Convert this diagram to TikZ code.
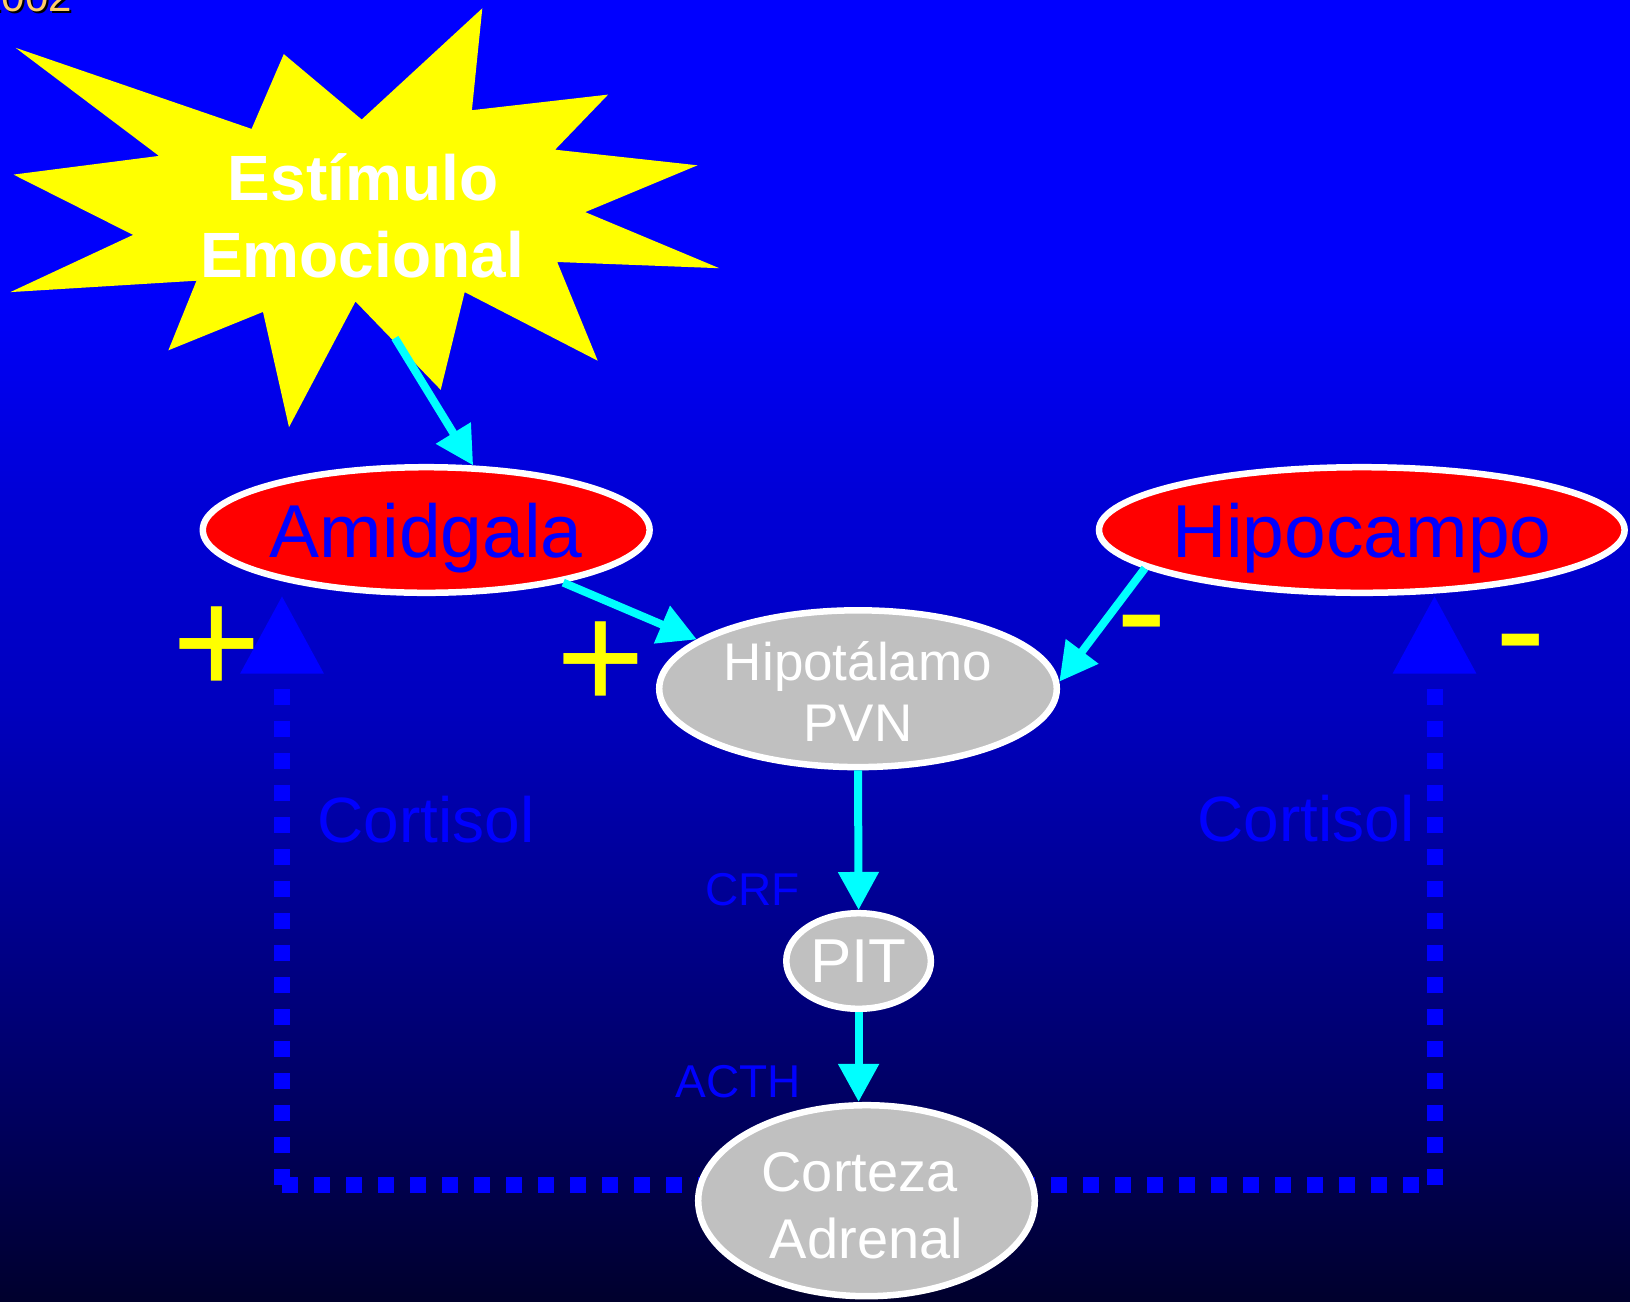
\documentclass[tikz,border=0pt]{standalone}
\usepackage{fontspec}
\setmainfont{Liberation Sans}
\usetikzlibrary{shapes.geometric,arrows.meta}
\definecolor{c0}{RGB}{0,0,255}
\definecolor{c1}{RGB}{0,0,250}
\definecolor{c2}{RGB}{0,0,216}
\definecolor{c3}{RGB}{0,0,190}
\definecolor{c4}{RGB}{0,0,144}
\definecolor{c5}{RGB}{0,0,96}
\definecolor{c6}{RGB}{0,0,45}
\definecolor{grayfill}{RGB}{192,192,192}
\definecolor{yeartext}{RGB}{255,204,102}
\definecolor{arrowcyan}{RGB}{0,255,255}
\definecolor{signyellow}{RGB}{255,255,0}
\definecolor{purered}{RGB}{255,0,0}
\definecolor{pureblue}{RGB}{0,0,255}
\pgfdeclareverticalshading{bgshade}{100bp}{color(0bp)=(c6); color(25bp)=(c6); color(32.34bp)=(c5); color(40.03bp)=(c4); color(47.71bp)=(c3); color(56.17bp)=(c2); color(63.47bp)=(c1); color(75bp)=(c0); color(100bp)=(c0)}
\pgfdeclarelayer{back}
\pgfdeclarelayer{lines}
\pgfsetlayers{back,lines,main}
\begin{document}
\begin{tikzpicture}[x=1pt,y=-1pt,
  ell/.style={ellipse, draw=white, line width=6.5pt, inner sep=0pt},
  redell/.style={ell, fill=purered, text=pureblue, font=\fontsize{75}{80}\selectfont, text height=54pt, text depth=0pt},
  grayell/.style={ell, fill=grayfill, text=white, align=center},
  cyanarrow/.style={draw=arrowcyan, line width=8pt, -{Triangle[length=38pt,width=39pt]}},
  cortline/.style={draw=pureblue, line width=16pt, dash pattern=on 16pt off 16pt},
  cortarrow/.style={cortline, -{Triangle[length=78pt,width=79pt]}},
  sign/.style={text=signyellow, font=\fontsize{152}{152}\selectfont, inner sep=0pt, anchor=base},
  lab/.style={text=pureblue, inner sep=0pt, anchor=base},
  startext/.style={text=white, font=\bfseries\fontsize{64}{76}\selectfont, inner sep=0pt, anchor=base},
  yearstyle/.style={font=\fontsize{42}{42}\selectfont, inner sep=0pt, anchor=base east}
]
\useasboundingbox (0,0) rectangle (1630,1301);
\begin{pgfonlayer}{back}
\shade[shading=bgshade] (0,0) rectangle (1630,1301);
\end{pgfonlayer}

% year text (cut off at the top-left corner, as in the original)
\node[yearstyle, text=black] (yearshadow) at (74,13) {2002};
\node[yearstyle, text=yeartext] (year) at (72,11) {2002};

% star
\fill[signyellow] (15.6,47.8) -- (251.6,128.9) -- (283.8,54.1) -- (361.7,119.5) -- (482.3,8.3) -- (471.9,110.2) -- (608.1,94.6) -- (555.1,149.7) -- (697.5,165.3) -- (585.2,212.1) -- (719.3,268.2) -- (557.2,262) -- (597.7,360.7) -- (464.7,292.1) -- (440.7,389.8) -- (355.5,301.5) -- (289,427.2) -- (263,311.9) -- (168.4,350.3) -- (196.5,280.7) -- (10.4,292.1) -- (133.1,234.9) -- (13.5,174.6) -- (159,155.9) -- cycle;
\node[startext] (est1) at (363,200.6) {Estímulo};
\node[startext] (est2) at (362,277) {Emocional};
\coordinate (starout) at (395,338);

% nodes
\node[redell, minimum width=446.8pt, minimum height=125.6pt] (amid) at (426.2,530) {Amidgala};
\node[redell, inner xsep=-12pt, minimum width=525.6pt, minimum height=125.6pt] (hipoc) at (1361.8,530) {Hipocampo};
\node[grayell, minimum width=397.6pt, minimum height=156.8pt, font=\fontsize{53}{61}\selectfont] (hipot) at (858,688.7) {Hipotálamo\rule{0pt}{45pt}\\PVN};
\node[grayell, minimum width=144.6pt, minimum height=95.6pt, font=\fontsize{62}{62}\selectfont] (pit) at (858.6,961) {PIT};
\node[grayell, minimum width=336.6pt, minimum height=191pt, font=\fontsize{56}{67.5}\selectfont] (cort) at (866.5,1200.7) {Corteza\rule{14pt}{0pt}\rule{0pt}{49pt}\\Adrenal};

% cortisol feedback lines
\coordinate (cornerL) at (282,1185);
\coordinate (tipL) at (282,595.5);
\coordinate (cornerR) at (1434.5,1185);
\coordinate (tipR) at (1434.5,595.5);
\begin{pgfonlayer}{lines}
\draw[cortline] (cornerL) -- (cornerL -| cort.center);
\draw[cortline, dash phase=16pt] (cornerR) -- (cornerR -| cort.center);
\draw[cortarrow] (cornerL) -- (tipL);
\draw[cortarrow] (cornerR) -- (tipR);
\end{pgfonlayer}

% cyan arrows
\draw[cyanarrow] (starout) -- (amid.54.3);
\draw[cyanarrow] (amid.-21.5) -- (hipot.163.9);
\draw[cyanarrow] (hipoc.190.2) -- (hipot.2.2);
\draw[cyanarrow] (hipot.south) -- (pit.north);
\draw[cyanarrow] (pit.south) -- (pit.south |- cort.north);

% labels
\node[lab, font=\fontsize{64}{64}\selectfont] (cortisolL) at (426,842) {Cortisol};
\node[lab, font=\fontsize{64}{64}\selectfont] (cortisolR) at (1306,841) {Cortisol};
\node[lab, anchor=base east, font=\fontsize{46}{46}\selectfont] (crf) at (800,905) {CRF};
\node[lab, anchor=base east, font=\fontsize{46}{46}\selectfont] (acth) at (801,1097) {ACTH};

% signs
\node[sign] (plusL) at (216.5,694) {+};
\node[sign] (plusM) at (600.5,709.7) {+};
\node[sign] (minusM) at (1142,661.5) {-};
\node[sign] (minusR) at (1521,680.5) {-};
\end{tikzpicture}
\end{document}
